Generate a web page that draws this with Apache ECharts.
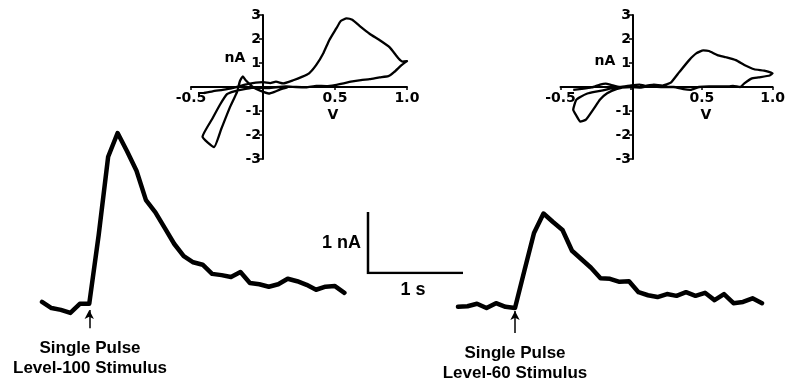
<!DOCTYPE html>
<html>
<head>
<meta charset="utf-8">
<script src="https://cdn.jsdelivr.net/npm/echarts@6/dist/echarts.min.js"></script>
<style>
    html, body { margin: 0; padding: 0; background: #fff; }
    #main { width: 788px; height: 386px; }
</style>
</head>
<body>
<div id="main"></div>
<script>
// current vs time, one sample every 0.1 s
var sampleStep = 0.1;
var trace100 = [0.05, -0.05, -0.08, -0.13, 0.02, 0.02, 1.15, 2.43, 2.82, 2.52, 2.2, 1.72, 1.52,
    1.26, 1.0, 0.8, 0.7, 0.66, 0.51, 0.49, 0.46, 0.54, 0.36, 0.34, 0.3, 0.34, 0.43, 0.39,
    0.33, 0.25, 0.3, 0.31, 0.2];
var trace60 = [-0.03, -0.02, 0.02, -0.05, 0.03, -0.03, -0.05, 0.57, 1.18, 1.5, 1.36, 1.23, 0.89,
    0.75, 0.61, 0.44, 0.43, 0.38, 0.39, 0.21, 0.16, 0.13, 0.18, 0.15, 0.21, 0.15, 0.2, 0.08,
    0.18, 0.03, 0.05, 0.11, 0.03];
var stimTimes = [0.5, 0.6];
var arrow100 = [-0.38, -0.08];
var arrow60 = [-0.46, -0.1];

// cyclic voltammograms (V, nA)
var cv100V = [-0.41, -0.35, -0.28, -0.22, -0.17, -0.11, -0.05, 0.0, 0.05, 0.09, 0.14, 0.21, 0.27,
    0.32, 0.37, 0.42, 0.46, 0.51, 0.54, 0.58, 0.62, 0.67, 0.74, 0.81, 0.88, 0.94, 0.97, 1.0,
    0.96, 0.91, 0.87, 0.81, 0.74, 0.68, 0.61, 0.56, 0.5, 0.44, 0.37, 0.3, 0.23, 0.16, 0.09,
    0.03, -0.05, -0.12, -0.2, -0.25, -0.3, -0.35, -0.42, -0.34, -0.29, -0.23, -0.18, -0.16,
    -0.14, -0.12, -0.07, -0.02, 0.04, 0.08, 0.12, 0.17];
var cv100I = [-0.25, -0.18, -0.12, -0.06, 0.02, 0.12, 0.18, 0.2, 0.16, 0.22, 0.15, 0.28, 0.42,
    0.57, 0.92, 1.42, 1.95, 2.45, 2.75, 2.86, 2.8, 2.55, 2.22, 1.95, 1.65, 1.2, 1.06, 1.08,
    0.9, 0.62, 0.45, 0.4, 0.33, 0.29, 0.22, 0.15, 0.08, 0.04, 0.05, -0.01, 0.0, 0.02, -0.01,
    -0.05, -0.03, -0.08, -0.18, -0.3, -0.75, -1.3, -2.07, -2.5, -1.75, -0.85, -0.2, 0.25,
    0.44, 0.28, 0.0, -0.15, -0.27, -0.2, -0.1, -0.02];
var cv60V = [-0.41, -0.35, -0.28, -0.22, -0.18, -0.14, -0.08, 0.0, 0.06, 0.1, 0.16, 0.22, 0.28,
    0.34, 0.41, 0.46, 0.51, 0.55, 0.61, 0.67, 0.74, 0.8, 0.87, 0.94, 1.0, 0.98, 0.9, 0.85,
    0.8, 0.77, 0.72, 0.69, 0.62, 0.55, 0.48, 0.42, 0.37, 0.3, 0.21, 0.12, 0.07, 0.0, -0.07,
    -0.14, -0.2, -0.26, -0.31, -0.36, -0.39, -0.41, -0.39, -0.36, -0.32, -0.27, -0.22, -0.17,
    -0.1, -0.03];
var cv60I = [-0.12, -0.08, -0.02, 0.1, 0.14, 0.08, 0.0, 0.07, 0.1, 0.05, 0.1, 0.06, 0.18,
    0.62, 1.12, 1.4, 1.53, 1.5, 1.33, 1.24, 1.12, 0.92, 0.74, 0.68, 0.57, 0.48, 0.4, 0.35,
    0.15, 0.0, 0.05, 0.02, 0.03, 0.03, 0.0, -0.12, -0.09, 0.0, 0.0, 0.03, -0.02, 0.0, -0.02,
    -0.06, -0.14, -0.2, -0.27, -0.42, -0.55, -0.95, -1.17, -1.44, -1.36, -0.95, -0.52, -0.26,
    -0.08, 0.02];

var cvXTicks = [-0.5, 1.0, 0.5];   // min, max, interval
var cvYTicks = [-3, 3, 1];
var scaleNA = 1;
var scaleSec = 1;

function pairs(xs, ys) {
    return xs.map(function (x, i) { return [x, ys[i]]; });
}
function timed(vals) {
    return vals.map(function (v, i) { return [+(i * sampleStep).toFixed(2), v]; });
}

var cvGrids = [
    { left: 191, top: 15, width: 216, height: 144 },
    { left: 560.5, top: 15, width: 217.5, height: 144 }
];

var tickFont = { color: '#000', fontFamily: 'DejaVu Sans', fontWeight: 'bold', fontSize: 14 };
var bigFont = 'bold 17px "Liberation Sans", Arial, sans-serif';
var smallFont = 'bold 14px "DejaVu Sans", sans-serif';

// axes cross at zero: shift them into the grid with a negative offset
function cvX(grid) {
    var g = cvGrids[grid];
    var off = -g.height * (0 - cvYTicks[0]) / (cvYTicks[1] - cvYTicks[0]);
    return {
        type: 'value', gridIndex: grid, position: 'bottom', offset: off,
        min: cvXTicks[0], max: cvXTicks[1], interval: cvXTicks[2],
        axisLine: { onZero: false, lineStyle: { color: '#000', width: 2 } },
        axisTick: { show: true, length: 3, lineStyle: { color: '#000', width: 1.5 } },
        axisLabel: Object.assign({ margin: 4, formatter: function (v) { return v === 0 ? '' : v.toFixed(1); } }, tickFont),
        splitLine: { show: false }
    };
}
function cvY(grid) {
    var g = cvGrids[grid];
    var off = -g.width * (0 - cvXTicks[0]) / (cvXTicks[1] - cvXTicks[0]);
    return {
        type: 'value', gridIndex: grid, position: 'left', offset: off,
        min: cvYTicks[0], max: cvYTicks[1], interval: cvYTicks[2],
        axisLine: { onZero: false, lineStyle: { color: '#000', width: 2 } },
        axisTick: { show: true, length: 4, lineStyle: { color: '#000', width: 1.5 } },
        axisLabel: Object.assign({ margin: 2, formatter: function (v) { return v === 0 ? '' : String(v); } }, tickFont),
        splitLine: { show: false }
    };
}
function hiddenAxis(grid, min, max) {
    return { type: 'value', gridIndex: grid, min: min, max: max, show: false, splitLine: { show: false } };
}
function arrowLine(t, ys) {
    return {
        silent: true, animation: false,
        symbol: ['none', 'arrow'], symbolSize: [7, 9],
        label: { show: false },
        lineStyle: { color: '#000', width: 1.5, type: 'solid' },
        data: [[{ coord: [t, ys[0]] }, { coord: [t, ys[1]] }]]
    };
}

var chart = echarts.init(document.getElementById('main'), null, { renderer: 'canvas' });

var option = {
    backgroundColor: '#fff',
    animation: false,
    grid: [
        cvGrids[0],
        cvGrids[1],
        { left: 42, top: 122, width: 302.4, height: 219.6 },
        { left: 458, top: 122, width: 304, height: 219.6 },
        { left: 368, top: 212, width: 95, height: 61 }
    ],
    xAxis: [
        cvX(0), cvX(1),
        hiddenAxis(2, 0, 3.2), hiddenAxis(3, 0, 3.2),
        hiddenAxis(4, 0, scaleSec)
    ],
    yAxis: [
        cvY(0), cvY(1),
        hiddenAxis(2, -0.6, 3), hiddenAxis(3, -0.6, 3),
        hiddenAxis(4, 0, scaleNA)
    ],
    series: [
        {
            type: 'line', xAxisIndex: 0, yAxisIndex: 0, showSymbol: false, smooth: 0.15,
            lineStyle: { color: '#000', width: 2.3, join: 'round' },
            data: pairs(cv100V, cv100I)
        },
        {
            type: 'line', xAxisIndex: 1, yAxisIndex: 1, showSymbol: false, smooth: 0.15,
            lineStyle: { color: '#000', width: 2.3, join: 'round' },
            data: pairs(cv60V, cv60I)
        },
        {
            type: 'line', xAxisIndex: 2, yAxisIndex: 2, showSymbol: false,
            lineStyle: { color: '#000', width: 4.5, join: 'round', cap: 'round' },
            data: timed(trace100),
            markLine: arrowLine(stimTimes[0], arrow100)
        },
        {
            type: 'line', xAxisIndex: 3, yAxisIndex: 3, showSymbol: false,
            lineStyle: { color: '#000', width: 4.5, join: 'round', cap: 'round' },
            data: timed(trace60),
            markLine: arrowLine(stimTimes[1], arrow60)
        },
        {
            type: 'line', xAxisIndex: 4, yAxisIndex: 4, showSymbol: false,
            lineStyle: { color: '#000', width: 2.5, join: 'miter' },
            data: [[0, scaleNA], [0, 0], [scaleSec, 0]]
        }
    ],
    graphic: [
        { type: 'text', x: 235, y: 58, style: { text: 'nA', font: smallFont, fill: '#000', align: 'center', verticalAlign: 'middle' } },
        { type: 'text', x: 333, y: 115, style: { text: 'V', font: smallFont, fill: '#000', align: 'center', verticalAlign: 'middle' } },
        { type: 'text', x: 605, y: 61, style: { text: 'nA', font: smallFont, fill: '#000', align: 'center', verticalAlign: 'middle' } },
        { type: 'text', x: 706, y: 115, style: { text: 'V', font: smallFont, fill: '#000', align: 'center', verticalAlign: 'middle' } },
        { type: 'text', x: 361, y: 243, style: { text: scaleNA + ' nA', font: 'bold 18px "Liberation Sans", Arial, sans-serif', fill: '#000', align: 'right', verticalAlign: 'middle' } },
        { type: 'text', x: 413, y: 290, style: { text: scaleSec + ' s', font: 'bold 18px "Liberation Sans", Arial, sans-serif', fill: '#000', align: 'center', verticalAlign: 'middle' } },
        { type: 'text', x: 90, y: 348, style: { text: 'Single Pulse', font: bigFont, fill: '#000', align: 'center', verticalAlign: 'middle' } },
        { type: 'text', x: 90, y: 368, style: { text: 'Level-100 Stimulus', font: bigFont, fill: '#000', align: 'center', verticalAlign: 'middle' } },
        { type: 'text', x: 515, y: 353, style: { text: 'Single Pulse', font: bigFont, fill: '#000', align: 'center', verticalAlign: 'middle' } },
        { type: 'text', x: 515, y: 373, style: { text: 'Level-60 Stimulus', font: bigFont, fill: '#000', align: 'center', verticalAlign: 'middle' } }
    ]
};

chart.setOption(option);
</script>
</body>
</html>
